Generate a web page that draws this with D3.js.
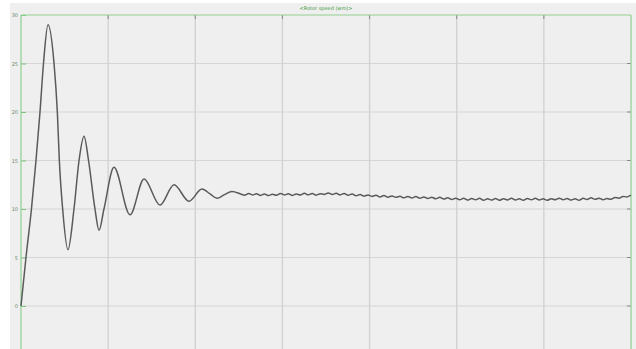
<!DOCTYPE html>
<html><head><meta charset="utf-8">
<script src="https://cdn.jsdelivr.net/npm/d3@7"></script>
<style>html,body{margin:0;padding:0;background:#fff;}svg{display:block;}</style>
</head><body>
<script>
// ---- data ----
const title = "<Rotor speed (wm)>";
const yTicks = [0, 5, 10, 15, 20, 25, 30];
const xTicks = [0, 1, 2, 3, 4, 5, 6, 7];
// transient part: time and speed
const transT = [0.000, 0.057, 0.120, 0.172, 0.218, 0.258, 0.310, 0.379, 0.417, 0.440, 0.478, 0.539,
  0.608, 0.666, 0.723, 0.775, 0.849, 0.895, 0.952, 1.067, 1.251, 1.412, 1.595, 1.756, 1.928,
  2.077, 2.17, 2.25, 2.33, 2.421];
const transV = [0, 5, 10, 15, 20, 25, 29.0, 25, 20, 15, 10, 5.8,
  10, 15, 17.5, 15, 10, 7.8, 10, 14.3, 9.4, 13.1, 10.4, 12.5, 10.8,
  12.05, 11.55, 11.1, 11.45, 11.8];
// steady-state ripple, sampled uniformly from tailStart with tailStep
const tailStart = 2.52, tailStep = 0.0457;
const tailV = [11.55,11.42,11.6,11.45,11.58,11.4,11.55,11.38,11.52,11.42,
  11.6,11.45,11.57,11.4,11.55,11.44,11.62,11.46,11.6,11.43,
  11.58,11.5,11.66,11.5,11.62,11.45,11.6,11.42,11.55,11.36,
  11.5,11.33,11.45,11.3,11.42,11.25,11.38,11.22,11.35,11.2,
  11.32,11.15,11.3,11.13,11.28,11.1,11.25,11.08,11.22,11.05,
  11.2,11.02,11.15,10.98,11.12,10.95,11.1,10.92,11.08,10.95,
  11.1,10.9,11.05,10.92,11.08,10.9,11.06,10.94,11.1,10.92,
  11.05,10.9,11.08,10.95,11.1,10.93,11.05,10.9,11.06,10.95,
  11.12,10.96,11.08,10.92,11.05,10.9,11.1,10.98,11.15,11.0,
  11.12,10.95,11.08,11.0,11.18,11.12,11.3,11.25,11.42];

const W = 636, H = 349;
const L = 21, R = 631, T = 15, B = 349;
const svg = d3.select("body").append("svg").attr("width", W).attr("height", H);
svg.append("rect").attr("x", 0).attr("y", 0).attr("width", W).attr("height", H).attr("fill", "#fff");
svg.append("rect").attr("x", 10).attr("y", 3).attr("width", W - 10).attr("height", H - 3).attr("fill", "#efefef");

const x = d3.scaleLinear().domain([0, 7]).range([L, R]);
const y = d3.scaleLinear().domain([0, 30]).range([306, T]);

// grid
svg.append("g").selectAll("line").data(yTicks.slice(0, -1)).join("line")
  .attr("x1", L).attr("x2", R).attr("y1", d => y(d)).attr("y2", d => y(d))
  .attr("stroke", "#d6d6d6").attr("stroke-width", 1.2);
svg.append("g").selectAll("line").data(xTicks.slice(1, -1)).join("line")
  .attr("x1", d => x(d)).attr("x2", d => x(d)).attr("y1", T).attr("y2", B)
  .attr("stroke", "#d2d2d2").attr("stroke-width", 1.4);

// top ticks (dark) and right ticks
svg.append("g").selectAll("line").data(xTicks.slice(1, -1)).join("line")
  .attr("x1", d => x(d)).attr("x2", d => x(d)).attr("y1", T).attr("y2", T + 4)
  .attr("stroke", "#888").attr("stroke-width", 1);
svg.append("g").selectAll("line").data(yTicks.slice(0, -1)).join("line")
  .attr("x1", R - 4).attr("x2", R).attr("y1", d => y(d)).attr("y2", d => y(d))
  .attr("stroke", "#888").attr("stroke-width", 1);

// left axis
const yAxis = d3.axisLeft(y).tickValues(yTicks).tickSize(-5).tickPadding(3);
const ga = svg.append("g").attr("transform", `translate(${L},0)`).call(yAxis);
ga.select(".domain").remove();
ga.selectAll(".tick line").attr("stroke", "#7cc47c").attr("stroke-width", 1);
ga.selectAll(".tick text").attr("fill", "#6a8a6a").attr("font-size", 5).attr("font-family", "DejaVu Sans");

// borders
svg.append("line").attr("x1", L).attr("x2", R).attr("y1", T).attr("y2", T).attr("stroke", "#8fcf8f").attr("stroke-width", 1.2);
svg.append("line").attr("x1", L).attr("x2", L).attr("y1", T).attr("y2", B).attr("stroke", "#8fcf8f").attr("stroke-width", 1.2);
svg.append("line").attr("x1", R).attr("x2", R).attr("y1", T).attr("y2", B).attr("stroke", "#8fcf8f").attr("stroke-width", 1.2);

// title
svg.append("text").attr("x", (L + R) / 2).attr("y", 10).attr("text-anchor", "middle")
  .attr("font-size", 5).attr("font-family", "DejaVu Sans").attr("fill", "#3c9a3c").text(title);

// series
const pts = transT.map((t, i) => [t, transV[i]])
  .concat(tailV.map((v, i) => [tailStart + i * tailStep, v]));
const line = d3.line().x(d => x(d[0])).y(d => y(d[1])).curve(d3.curveMonotoneX);
svg.append("path").datum(pts).attr("d", line).attr("fill", "none")
  .attr("stroke", "#5a5a5a").attr("stroke-width", 1.5);
</script>
</body></html>
